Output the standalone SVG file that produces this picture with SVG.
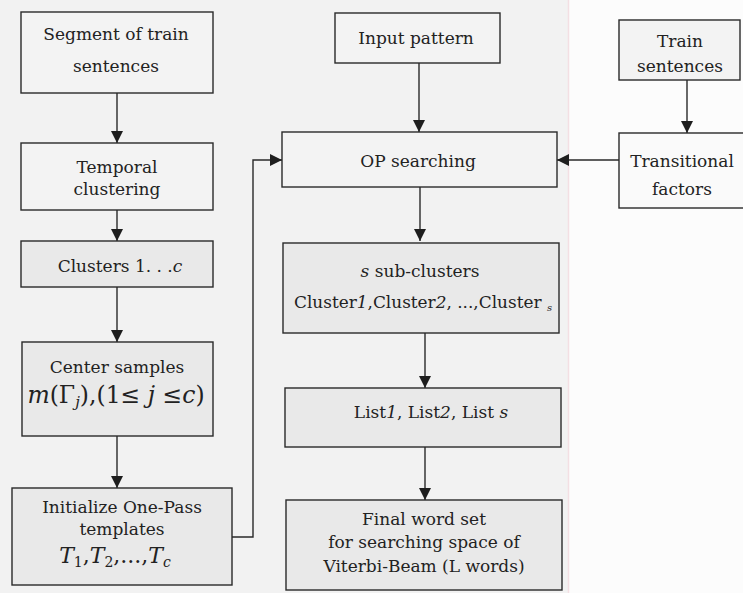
<svg xmlns="http://www.w3.org/2000/svg" width="743" height="593" viewBox="0 0 743 593">
<style>
.bx{stroke:#2a2a2a;stroke-width:1.4;}
.lt{fill:#f3f3f3;}
.dk{fill:#e9e9e9;}
.t{font-family:"DejaVu Serif","Liberation Serif",serif;font-size:17px;fill:#222;text-anchor:middle;}
.m{font-size:23.5px;}
.tm{font-size:22px;}
.i{font-style:italic;}
.cn{fill:none;stroke:#2a2a2a;stroke-width:1.4;}
</style>
<defs>
<marker id="ah" markerUnits="userSpaceOnUse" markerWidth="12" markerHeight="12" refX="12" refY="6" orient="auto">
<path d="M0,0 L12,6 L0,12 z" fill="#1e1e1e"/>
</marker>
</defs>
<rect x="0" y="0" width="568" height="593" fill="#f2f2f2"/>
<rect x="568" y="0" width="175" height="593" fill="#fcfcfc"/>
<line x1="568.5" y1="0" x2="568.5" y2="593" stroke="#f3dfe3" stroke-width="1.5"/>

<g id="connectors">
<path class="cn" d="M117 93 V143" marker-end="url(#ah)"/>
<path class="cn" d="M117 210 V241" marker-end="url(#ah)"/>
<path class="cn" d="M117 287 V342" marker-end="url(#ah)"/>
<path class="cn" d="M117 436 V488" marker-end="url(#ah)"/>
<path class="cn" d="M232 537 H253 V160 H282" marker-end="url(#ah)"/>
<path class="cn" d="M419 63 V132" marker-end="url(#ah)"/>
<path class="cn" d="M420 187 V241" marker-end="url(#ah)"/>
<path class="cn" d="M425 333 V388" marker-end="url(#ah)"/>
<path class="cn" d="M425 447 V500" marker-end="url(#ah)"/>
<path class="cn" d="M687 80 V133" marker-end="url(#ah)"/>
<path class="cn" d="M619 160 H557" marker-end="url(#ah)"/>
</g>

<g id="segment">
<rect class="bx lt" x="21" y="12" width="192" height="81"/>
<text class="t" x="116" y="40">Segment of train</text>
<text class="t" x="116" y="72">sentences</text>
</g>
<g id="temporal">
<rect class="bx lt" x="21" y="143" width="192" height="67"/>
<text class="t" x="117" y="173">Temporal</text>
<text class="t" x="117" y="195">clustering</text>
</g>
<g id="clusters">
<rect class="bx dk" x="21" y="241" width="192" height="46"/>
<text class="t" x="120" y="272">Clusters 1. . .<tspan class="i">c</tspan></text>
</g>
<g id="center">
<rect class="bx dk" x="22" y="342" width="191" height="94"/>
<text class="t" x="117" y="373">Center samples</text>
<text class="t m" x="116" y="403"><tspan class="i">m</tspan>(Γ<tspan class="i" font-size="15" dy="4">j</tspan><tspan dy="-4">),(1≤ </tspan><tspan class="i">j</tspan> ≤<tspan class="i">c</tspan>)</text>
</g>
<g id="initialize">
<rect class="bx dk" x="12" y="488" width="220" height="97"/>
<text class="t" x="122" y="513">Initialize One-Pass</text>
<text class="t" x="122" y="535">templates</text>
<text class="t tm" x="115" y="563"><tspan class="i">T</tspan><tspan font-size="14" dy="4">1</tspan><tspan dy="-4">,</tspan><tspan class="i">T</tspan><tspan font-size="14" dy="4">2</tspan><tspan dy="-4">,...,</tspan><tspan class="i">T</tspan><tspan class="i" font-size="14" dy="4">c</tspan></text>
</g>

<g id="input">
<rect class="bx lt" x="335" y="13" width="165" height="50"/>
<text class="t" x="416" y="44">Input pattern</text>
</g>
<g id="op">
<rect class="bx lt" x="282" y="132" width="275" height="55"/>
<text class="t" x="418" y="167">OP  searching</text>
</g>
<g id="subclusters">
<rect class="bx dk" x="283" y="243" width="276" height="90"/>
<text class="t" x="420" y="277"><tspan class="i">s</tspan>  sub-clusters</text>
<text class="t" x="423" y="308" textLength="258" lengthAdjust="spacingAndGlyphs">Cluster<tspan class="i">1</tspan>,Cluster<tspan class="i">2</tspan>, ...,Cluster <tspan class="i" font-size="10" dy="3">s</tspan></text>
</g>
<g id="lists">
<rect class="bx dk" x="285" y="388" width="276" height="59"/>
<text class="t" x="431" y="418">List<tspan class="i">1</tspan>, List<tspan class="i">2</tspan>, List <tspan class="i">s</tspan></text>
</g>
<g id="final">
<rect class="bx dk" x="286" y="500" width="276" height="90"/>
<text class="t" x="424" y="525">Final word set</text>
<text class="t" x="424" y="548">for searching space of</text>
<text class="t" x="424" y="572">Viterbi-Beam (L words)</text>
</g>

<g id="train">
<rect class="bx lt" x="619" y="20" width="121" height="60"/>
<text class="t" x="680" y="47">Train</text>
<text class="t" x="680" y="72">sentences</text>
</g>
<g id="transitional">
<rect class="bx" fill="#fafafa" x="619" y="133" width="130" height="75"/>
<text class="t" x="682" y="167">Transitional</text>
<text class="t" x="682" y="195">factors</text>
</g>
</svg>
